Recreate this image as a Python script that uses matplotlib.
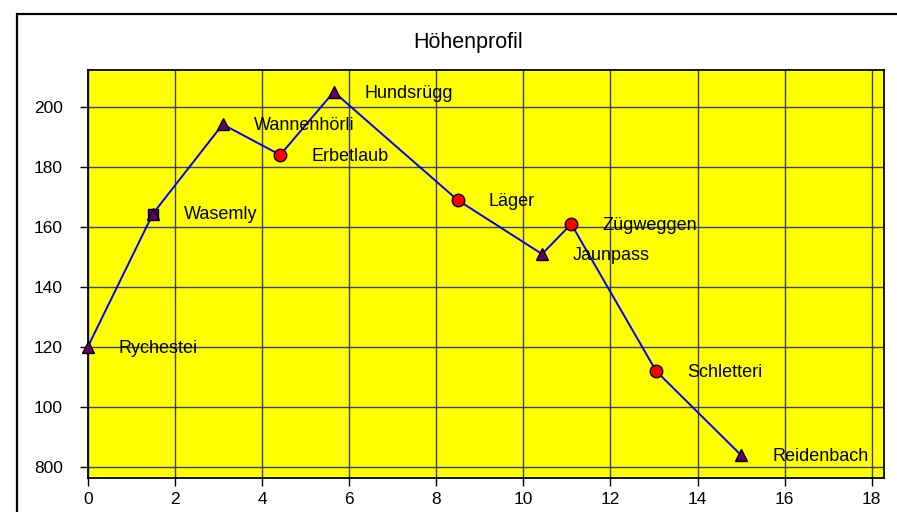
import matplotlib
matplotlib.use("Agg")
import matplotlib.pyplot as plt
from matplotlib.patches import Rectangle

plt.rcParams['font.family'] = ['Liberation Sans', 'DejaVu Sans']

names = ["Rychestei", "Wasemly", "Wannenhörli", "Erbetlaub", "Hundsrügg",
         "Läger", "Jaunpass", "Zügweggen", "Schletteri", "Reidenbach"]
km = [0.0, 1.5, 3.1, 4.42, 5.65, 8.49, 10.43, 11.1, 13.05, 15.0]
hoehe = [120, 164.5, 194.2, 184, 205, 169, 151, 161, 112, 84]
marker_typ = ["^", "^", "^", "o", "^", "o", "^", "o", "o", "^"]
x_ticks = [0, 2, 4, 6, 8, 10, 12, 14, 16, 18]
y_ticks = [80, 100, 120, 140, 160, 180, 200]
y_labels = ["800", "100", "120", "140", "160", "180", "200"]
title = "Höhenprofil"

W, H = 897, 512
fig = plt.figure(figsize=(W / 100, H / 100), dpi=100)

# outer chart frame (extends past right/bottom edge)
fig.patches.append(Rectangle((16.5 / W, -0.1), 1.2, 1 - 13.5 / H + 0.1,
                             transform=fig.transFigure, fill=False,
                             edgecolor='black', linewidth=1.6, clip_on=False))

ax = fig.add_axes([87.7 / W, 1 - 478 / H, (884 - 87.7) / W, (478 - 70) / H])
ax.set_facecolor('#FFFF00')
ax.set_xlim(0, 18.28)
ax.set_ylim(76.4, 212.3)

ax.set_xticks(x_ticks)
ax.set_yticks(y_ticks)
ax.set_yticklabels(y_labels)
ax.tick_params(axis='both', labelsize=12.5, length=6, width=1, color='black',
               direction='out')
ax.tick_params(axis='y', pad=12)
ax.tick_params(axis='x', pad=4)
ax.grid(True, color='#3C3C64', linewidth=1)
ax.set_axisbelow(True)
for s in ax.spines.values():
    s.set_color('black')
    s.set_linewidth(1.3)

ax.plot(km, hoehe, color='#0000FF', linewidth=1.4, zorder=3)
# Wasemly has an additional square marker beneath its triangle
ax.plot([km[1]], [hoehe[1]], marker='s', markersize=7, color='#660066',
        markeredgecolor='black', markeredgewidth=1, linestyle='none', zorder=4)
for x, y, m in zip(km, hoehe, marker_typ):
    if m == "^":
        ax.plot([x], [y], marker='^', markersize=9, color='#660066',
                markeredgecolor='black', markeredgewidth=1, linestyle='none',
                zorder=5, clip_on=False)
    else:
        ax.plot([x], [y], marker='o', markersize=9, color='#FF0000',
                markeredgecolor='black', markeredgewidth=1, linestyle='none',
                zorder=5, clip_on=False)

for x, y, n in zip(km, hoehe, names):
    ax.annotate(n, (x, y), xytext=(22.3, -1), textcoords='offset points',
                ha='left', va='center', fontsize=13, color='black', zorder=6)

fig.text(468.5 / W, 1 - 48.3 / H, title, ha='center', va='baseline', fontsize=15.5)

fig.savefig('out.png', dpi=100)
